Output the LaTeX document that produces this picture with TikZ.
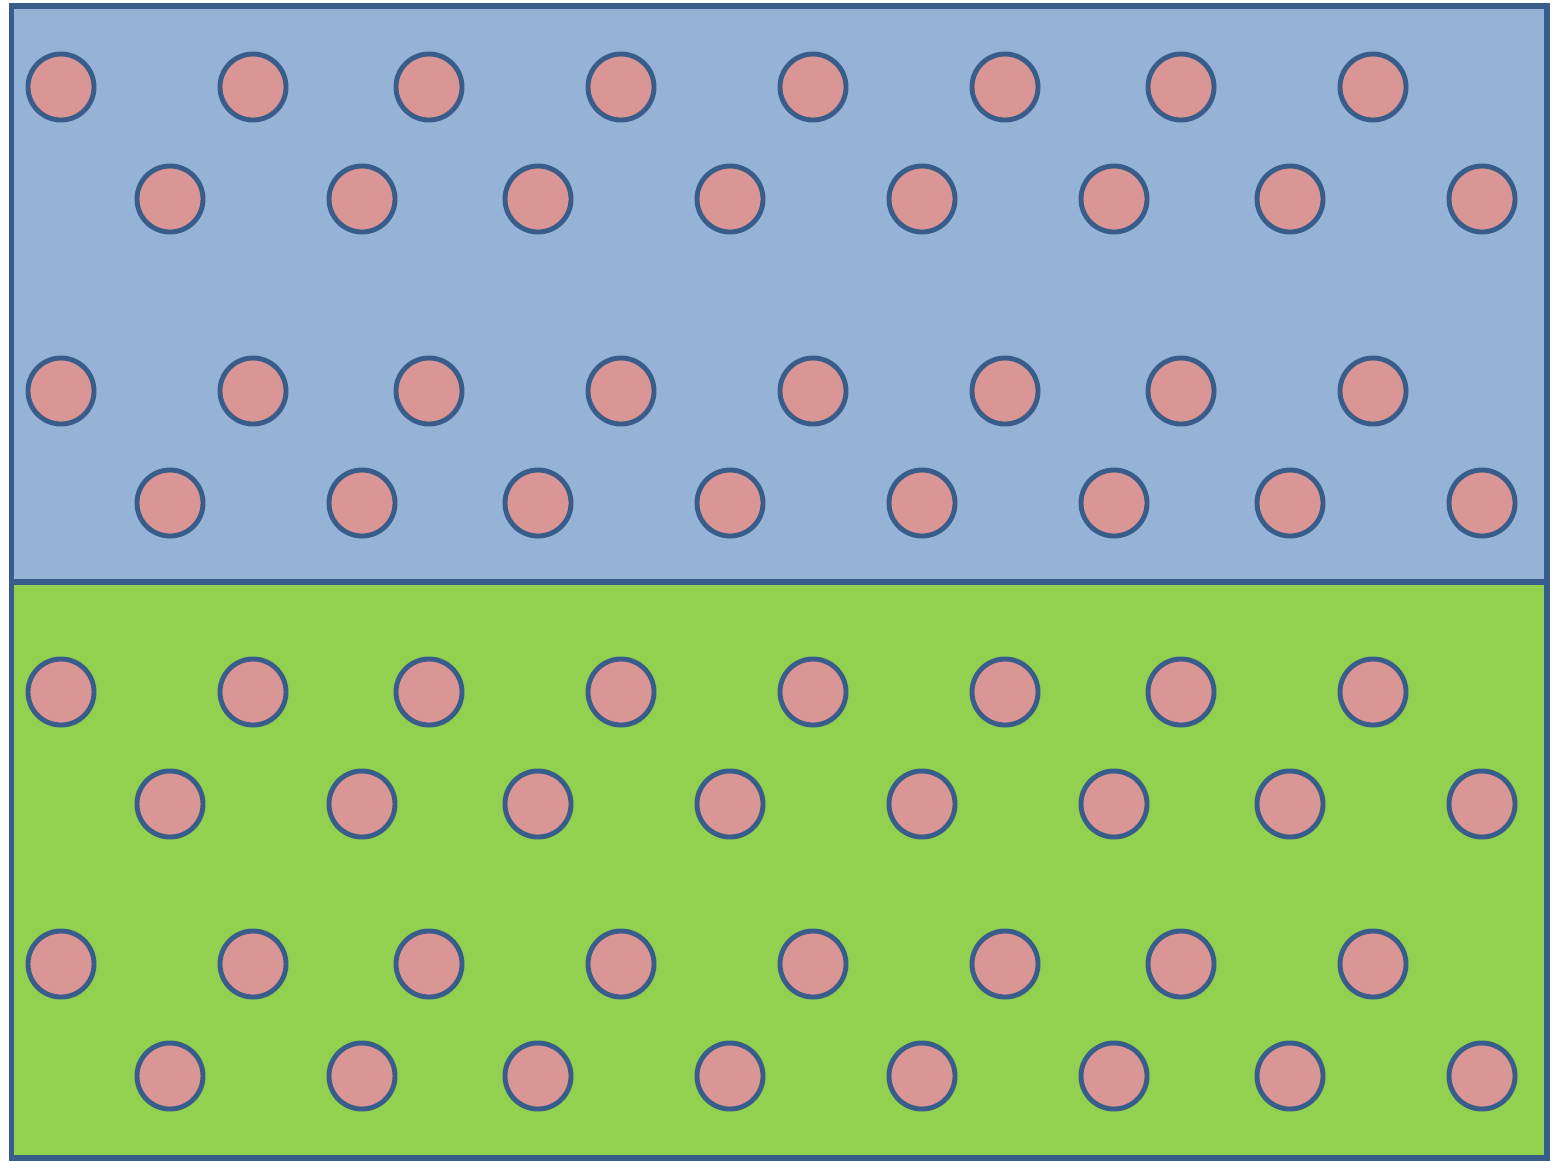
\documentclass[tikz,border=0pt]{standalone}
\usepackage{tikz}
\definecolor{edgeblue}{RGB}{56,93,138}
\definecolor{softblue}{RGB}{149,179,215}
\definecolor{softgreen}{RGB}{146,208,80}
\definecolor{softred}{RGB}{217,150,148}

\begin{document}
\begin{tikzpicture}[x=0.01cm, y=-0.01cm, line width=1.4pt]
\tikzstyle{layer}=[draw=edgeblue, line width=1.6pt]
\tikzstyle{dot}=[circle, draw=edgeblue, fill=softred, minimum size=0.66cm, inner sep=0pt]
\useasboundingbox (0,0) rectangle (1552,1160);
\filldraw[layer, fill=softblue] (11.5,6) rectangle (1547,582);
\filldraw[layer, fill=softgreen] (11.5,582) rectangle (1547,1158);
% staggered rows, two pairs per layer
\foreach \yy [count=\r] in {87,391,692,964} {
  \foreach \xx [count=\c] in {61,253,429,621,813,1005,1181,1373}
    \node[dot] (a\r-\c) at (\xx,\yy) {};
  \foreach \xx [count=\c] in {170,362,538,730,922,1114,1290,1482}
    \node[dot] (b\r-\c) at (\xx,\yy+112) {};
}
\end{tikzpicture}
\end{document}
